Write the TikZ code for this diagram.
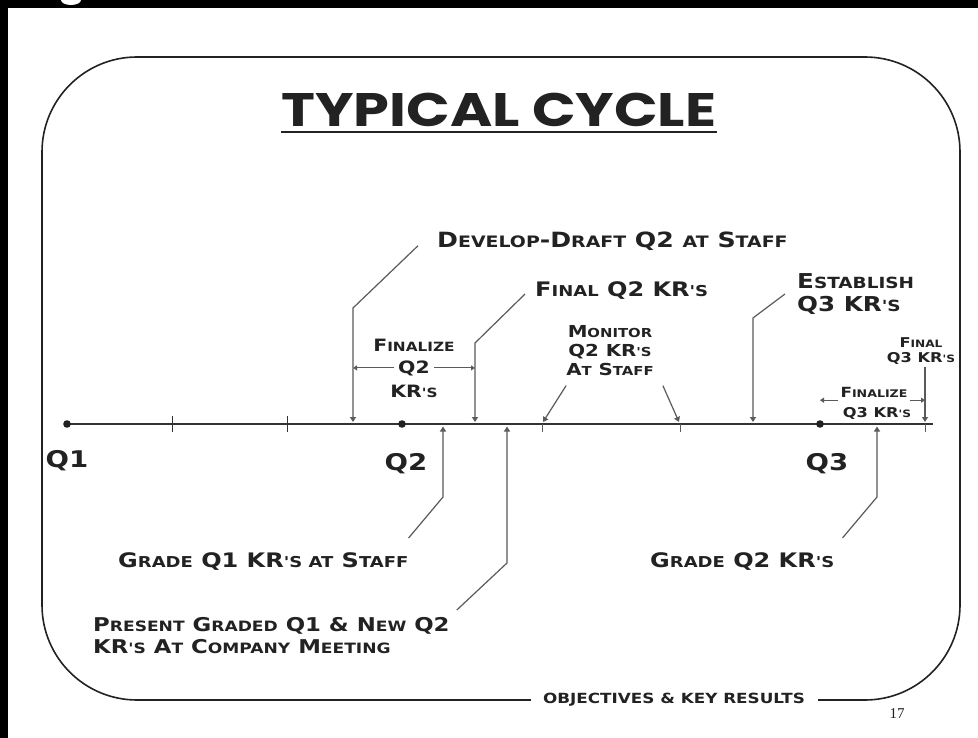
\documentclass[tikz,border=0pt]{standalone}
\usepackage{fontspec}
\setmainfont{DejaVu Sans}
\newfontfamily\copfont[FakeStretch=1.2]{DejaVu Sans}
\newfontfamily\ttlfont[FakeStretch=1.22]{Poppins}
\newfontfamily\pgfont{Liberation Serif}
\usetikzlibrary{arrows.meta}
\definecolor{inkgray}{HTML}{222222}
\definecolor{axisgray}{HTML}{333333}
\definecolor{linegray}{HTML}{5A5A5A}
\makeatletter
\newcommand\sm[1]{{\fontsize{\fpeval{0.75*\f@size}}{1}\selectfont\MakeUppercase{#1}}}
\makeatother

\tikzset{
  lbl/.style={font=\copfont\bfseries\fontsize{#1}{\fpeval{1.15*#1}}\selectfont,
    text=inkgray, inner sep=0pt},
  lbl/.default=20,
  ptr/.style={draw=linegray, line width=1.2pt, -{Triangle[length=5pt,width=6pt]}},
  dbl/.style={draw=linegray, line width=1pt, -{Triangle[length=4pt,width=5pt]}}
}

\begin{document}
\begin{tikzpicture}[x=1pt,y=-1pt]
  \useasboundingbox (0,0) rectangle (978,738);
  % Page
  \fill[white] (0,0) rectangle (978,738);
  \fill[black] (0,0) rectangle (978,8);
  \fill[black] (0,0) rectangle (8,738);
  \fill[white] (71,0) ellipse (10 and 5);

  % Title
  \node[font=\ttlfont\bfseries\fontsize{47}{47}\selectfont, text=inkgray, inner sep=0pt, anchor=base] (title) at (499,127) {TYPICAL CYCLE};
  \draw[line width=2.2pt, inkgray] ([yshift=-5pt]title.base west) -- ([yshift=-5pt]title.base east);

  % Footer and frame
  \node[lbl=14] (foot) at (674,700) {OBJECTIVES \& KEY RESULTS};
  \node[font=\pgfont\fontsize{15}{15}\selectfont, text=inkgray, inner sep=0pt] (page) at (897,714) {17};
  \draw[line width=1.6pt, inkgray, rounded corners=95pt] ([xshift=-12pt]foot.west) -- (42,700) -- (42,57)
    -- (960,57) -- (960,700) -- ([xshift=13pt]foot.east);

  % Time line
  \coordinate (q1) at (67,424);
  \coordinate (q2) at (402,424);
  \coordinate (q3) at (820,424);
  \coordinate (tend) at (933,424);
  \draw[line width=2.2pt, axisgray] (q1) -- (tend);
  \foreach \p in {q1,q2,q3} \fill[inkgray] (\p) circle (3.8);
  \foreach \x in {172,287} \draw[line width=1pt, axisgray] (\x,416) -- (\x,432);
  \foreach \x in {542,680,925} \draw[line width=1pt, linegray] (\x,424) -- (\x,432);
  \node[lbl=23, anchor=base] (lq1) at (67,467) {Q1};
  \node[lbl=23, anchor=base] (lq2) at (406,470) {Q2};
  \node[lbl=23, anchor=base] (lq3) at (827,470) {Q3};

  % Arrow ends on the line
  \coordinate (a1) at (353,422);
  \coordinate (a2) at (475,422);
  \coordinate (a3) at (753,422);
  \coordinate (a4) at (925,422);
  \coordinate (m1) at (543,422);
  \coordinate (m2) at (679,422);
  \coordinate (b1) at (443,426.5);
  \coordinate (b2) at (507,426.5);
  \coordinate (b3) at (877,426.5);

  % Labels above
  \node[lbl=21, anchor=base west] (dev) at (437,248) {D\sm{evelop}-D\sm{raft} Q2 \sm{at} S\sm{taff}};
  \node[lbl, anchor=base west] (fq2) at (535,297) {F\sm{inal} Q2 KR\sm{'s}};
  \node[lbl=17, anchor=base] (fin2a) at (414,352) {F\sm{inalize}};
  \node[lbl=17, anchor=base] (fin2b) at (414,373) {Q2};
  \node[lbl=17, anchor=base] (fin2c) at (414,397) {KR\sm{'s}};
  \node[lbl=16.5, anchor=north, align=center] (mon) at (610,325) {M\sm{onitor}\\Q2 KR\sm{'s}\\A\sm{t} S\sm{taff}};
  \node[lbl=20.5, anchor=north west, align=left] (est) at (797,273) {E\sm{stablish}\\Q3 KR\sm{'s}};
  \node[lbl=13.5, anchor=north, align=center] (fq3) at (921,337) {F\sm{inal}\\Q3 KR\sm{'s}};
  \node[lbl=14, anchor=base] (fin3a) at (874,397) {F\sm{inalize}};
  \node[lbl=13.5, anchor=base] (fin3b) at (877,417) {Q3 KR\sm{'s}};

  % Labels below
  \node[lbl, anchor=base west] (gq1) at (118,567) {G\sm{rade} Q1 KR\sm{'s at} S\sm{taff}};
  \node[lbl=19, anchor=north west, align=left] (pres) at (93,617) {P\sm{resent} G\sm{raded} Q1 \& N\sm{ew} Q2\\KR\sm{'s} A\sm{t} C\sm{ompany} M\sm{eeting}};
  \node[lbl, anchor=base west] (gq2) at (650,567) {G\sm{rade} Q2 KR\sm{'s}};

  % Pointers
  \draw[ptr] ([xshift=-19pt,yshift=-4pt]dev.west) -- (353,308) -- (a1);
  \draw[ptr] ([xshift=-10pt,yshift=-3pt]fq2.west) -- (475,343) -- (a2);
  \draw[ptr] ([xshift=-12pt]est.west) -- (753,318) -- (a3);
  \draw[ptr] ([yshift=-2pt]fq3.south -| a4) -- (a4);
  \draw[ptr] ([yshift=-10pt]mon.south west) -- (m1);
  \draw[ptr] ([xshift=9pt,yshift=-10pt]mon.south east) -- (m2);
  \draw[ptr] ([yshift=14pt]gq1.north east) -- (443,497) -- (b1);
  \draw[ptr] ([xshift=7pt,yshift=7pt]pres.north east) -- (507,563) -- (b2);
  \draw[ptr] ([xshift=8pt,yshift=14pt]gq2.north east) -- (877,497) -- (b3);

  % Finalize spans
  \draw[dbl] ([xshift=-4pt]fin2b.west) -- (fin2b.west -| a1);
  \draw[dbl] ([xshift=4pt]fin2b.east) -- (fin2b.east -| a2);
  \draw[dbl] ([xshift=-2pt,yshift=-3pt]fin3a.south west) -- ([yshift=-3pt]fin3a.south west -| q3);
  \draw[dbl] ([xshift=2pt,yshift=-3pt]fin3a.south east) -- ([yshift=-3pt]fin3a.south east -| a4);
\end{tikzpicture}
\end{document}
